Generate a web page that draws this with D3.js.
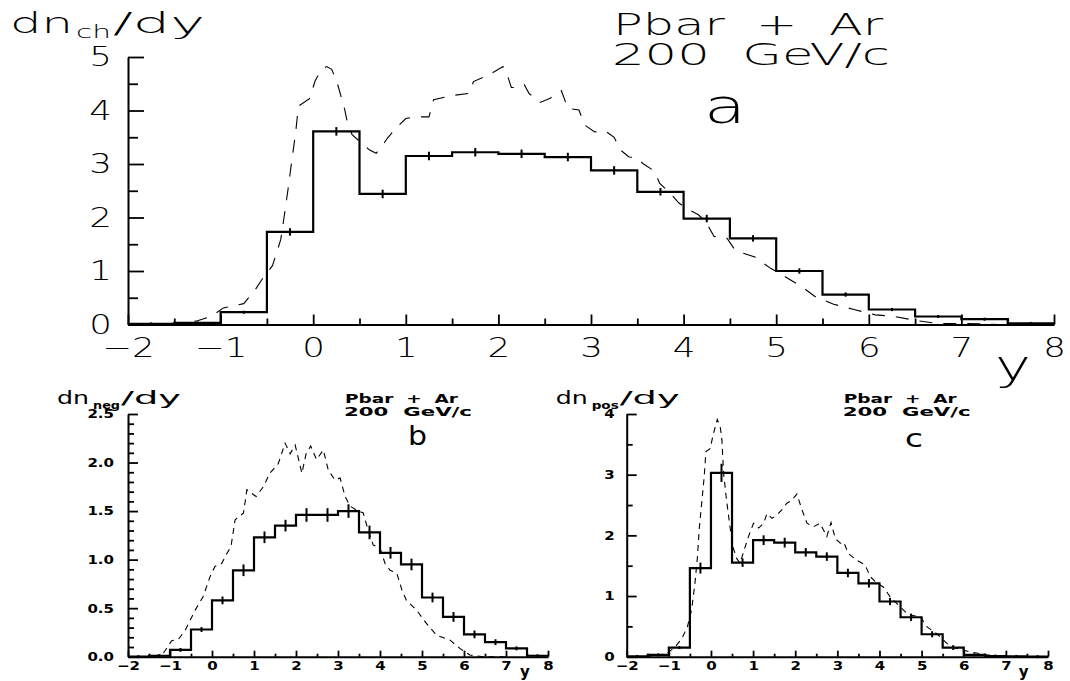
<!DOCTYPE html>
<html><head><meta charset="utf-8">
<script src="https://cdn.jsdelivr.net/npm/d3@7"></script>
<style>body{margin:0;background:#fff}svg{display:block}text{white-space:pre}</style>
</head><body><svg id="chart" width="1070" height="681"></svg>
<script>
// ---------- data ----------
const binLow = [-2,-1.5,-1,-0.5,0,0.5,1,1.5,2,2.5,3,3.5,4,4.5,5,5.5,6,6.5,7,7.5];
const binWidth = 0.5;

// panel a : charged
const chargedVals = [0.01,0.03,0.23,1.73,3.61,2.44,3.15,3.22,3.19,3.13,2.88,2.48,1.98,1.61,1.00,0.56,0.28,0.15,0.10,0.02];
const chargedErr  = [0.005,0.01,0.02,0.07,0.08,0.08,0.08,0.08,0.08,0.08,0.08,0.07,0.07,0.06,0.05,0.04,0.03,0.02,0.02,0.01];
const chargedModelY = [-1.8,-1.6,-1.4,-1.25,-1.1,-0.97,-0.75,-0.63,-0.55,-0.44,-0.35,-0.31,-0.27,-0.23,-0.19,-0.16,-0.04,0.02,0.09,0.145,0.2,0.26,0.3,0.34,0.37,0.42,0.54,0.61,0.68,0.75,0.8,0.91,1.0,1.09,1.25,1.3,1.5,1.69,1.73,1.89,2.05,2.1,2.14,2.23,2.28,2.33,2.45,2.56,2.68,2.75,2.87,2.93,3.04,3.15,3.25,3.32,3.41,3.5,3.56,3.69,3.74,3.84,3.95,4.05,4.16,4.24,4.33,4.4,4.47,4.56,4.77,4.94,5.11,5.28,5.43,5.62,5.84,6.07,6.28,6.52,6.75,7.05,7.26,7.4];
const chargedModelV = [0.0,0.01,0.03,0.07,0.15,0.31,0.39,0.64,0.85,1.10,1.59,2.06,2.55,3.08,3.58,4.08,4.22,4.55,4.77,4.82,4.77,4.51,4.27,4.02,3.77,3.55,3.36,3.26,3.20,3.35,3.48,3.70,3.85,3.88,3.88,4.20,4.28,4.32,4.54,4.66,4.82,4.64,4.43,4.43,4.48,4.32,4.15,4.23,4.37,4.04,4.01,3.73,3.60,3.62,3.50,3.26,3.13,3.12,3.01,2.86,2.64,2.48,2.27,2.15,2.05,1.92,1.64,1.66,1.61,1.38,1.26,1.05,0.88,0.70,0.51,0.38,0.28,0.18,0.15,0.07,0.02,0.02,0.01,0.0];

// panel b : negatives
const negVals = [0.0,0.01,0.07,0.28,0.58,0.89,1.23,1.35,1.46,1.46,1.50,1.28,1.07,0.95,0.61,0.41,0.23,0.15,0.086,0.01];
const negErr  = [0.0,0.005,0.02,0.025,0.04,0.06,0.06,0.06,0.07,0.07,0.07,0.07,0.06,0.06,0.05,0.05,0.04,0.03,0.02,0.01];
const negModelY = [-1.4,-1.16,-0.96,-0.8,-0.64,-0.4,-0.21,-0.05,0.07,0.23,0.35,0.45,0.55,0.75,0.83,1.05,1.22,1.38,1.58,1.74,1.86,1.98,2.14,2.24,2.35,2.49,2.65,2.77,2.93,3.05,3.17,3.29,3.44,3.6,3.72,3.84,4.0,4.12,4.24,4.4,4.52,4.63,4.87,5.11,5.35,5.67,5.9,6.14,6.46,7.0];
const negModelV = [0.0,0.035,0.165,0.18,0.27,0.48,0.62,0.82,0.93,0.96,1.06,1.13,1.41,1.48,1.72,1.65,1.75,1.89,1.99,2.20,2.09,2.18,1.89,2.09,2.17,2.03,2.13,1.92,1.82,1.84,1.65,1.55,1.51,1.48,1.30,1.15,1.12,0.96,0.89,0.86,0.69,0.58,0.48,0.34,0.22,0.17,0.086,0.017,0.0,0.0];

// panel c : positives
const posVals = [0.005,0.03,0.15,1.46,3.03,1.55,1.92,1.88,1.72,1.65,1.38,1.21,0.91,0.65,0.37,0.15,0.03,0.01,0.005,0.0];
const posErr  = [0.0,0.01,0.02,0.09,0.15,0.07,0.08,0.08,0.07,0.07,0.07,0.07,0.06,0.06,0.05,0.04,0.02,0.01,0.01,0.0];
const posModelY = [-1.8,-1.44,-1.05,-0.85,-0.69,-0.56,-0.46,-0.38,-0.32,-0.28,-0.22,-0.16,-0.12,-0.02,0.06,0.15,0.22,0.26,0.3,0.36,0.44,0.52,0.61,0.69,0.79,0.89,1.01,1.13,1.25,1.33,1.45,1.56,1.68,1.8,1.92,2.04,2.16,2.28,2.43,2.59,2.75,2.85,2.95,3.07,3.15,3.26,3.46,3.66,3.78,3.94,4.09,4.25,4.49,4.69,4.97,5.13,5.36,5.6,5.8,6.15,6.55,6.95,7.3];
const posModelV = [0.0,0.01,0.05,0.16,0.30,0.49,0.77,1.21,1.65,2.09,2.53,2.97,3.38,3.43,3.68,3.91,3.79,3.57,3.02,2.64,2.20,1.81,1.62,1.54,1.76,1.98,2.20,2.12,2.20,2.36,2.28,2.33,2.42,2.53,2.58,2.68,2.42,2.20,2.14,2.20,1.98,2.21,1.95,1.87,1.89,1.70,1.59,1.51,1.32,1.21,1.15,0.99,0.82,0.69,0.66,0.49,0.38,0.22,0.14,0.08,0.03,0.01,0.0];

const xTickVals = [-2,-1,0,1,2,3,4,5,6,7,8];
const titleLine1 = "Pbar  +  Ar";
const titleLine2 = "200  GeV/c";

// ---------- drawing ----------
const svg = d3.select("#chart");

function drawPanel(cfg) {
  const x = d3.scaleLinear().domain([-2, 8]).range([cfg.x0, cfg.x1]);
  const y = d3.scaleLinear().domain([0, cfg.yMax]).range([cfg.y0, cfg.y1]);
  const g = svg.append("g");

  // minor ticks
  g.append("g").attr("transform", `translate(0,${cfg.y0})`)
    .call(d3.axisBottom(x).tickValues(d3.range(-1.5, 8, 1)).tickFormat("").tickSizeInner(-cfg.xMinor).tickSizeOuter(0))
    .call(s => s.select(".domain").remove());
  g.append("g").attr("transform", `translate(${cfg.x0},0)`)
    .call(d3.axisLeft(y).tickValues(cfg.yMinorVals).tickFormat("").tickSizeInner(-cfg.yMinor).tickSizeOuter(0))
    .call(s => s.select(".domain").remove());

  // major x axis
  const gx = g.append("g").attr("transform", `translate(0,${cfg.y0})`)
    .call(d3.axisBottom(x).tickValues(xTickVals).tickSizeInner(-cfg.xMajor).tickSizeOuter(0).tickPadding(cfg.xPad)
      .tickFormat(d => d < 0 ? "\u2212" + Math.abs(d) : String(d)));
  gx.selectAll("text").attr("font-size", cfg.tickFont).attr("font-family", cfg.font)
    .attr("font-weight", cfg.tickWeight).attr("fill", "#000")
    .attr("transform", `scale(${cfg.sx},1)`).attr("dy", "0.71em");

  // major y axis
  const gy = g.append("g").attr("transform", `translate(${cfg.x0},0)`)
    .call(d3.axisLeft(y).tickValues(cfg.yMajorVals).tickSizeInner(-cfg.yMajor).tickSizeOuter(0).tickPadding(cfg.yPad / cfg.sx)
      .tickFormat(cfg.yFmt));
  gy.selectAll("text").attr("font-size", cfg.tickFont).attr("font-family", cfg.font)
    .attr("font-weight", cfg.tickWeight).attr("fill", "#000")
    .attr("transform", `scale(${cfg.sx},1)`);

  g.selectAll(".domain").attr("stroke-width", 2).attr("stroke", "#000");
  g.selectAll(".tick line").attr("stroke-width", 1.8).attr("stroke", "#000");

  // model curve (dashed)
  const pts = cfg.modelY.map((v, i) => [v, cfg.modelV[i]]);
  g.append("path").datum(pts)
    .attr("fill", "none").attr("stroke", "#000").attr("stroke-width", 1.1)
    .attr("stroke-dasharray", cfg.dash)
    .attr("d", d3.line().x(d => x(d[0])).y(d => y(d[1])));

  // histogram
  const hist = binLow.map((b, i) => [b, cfg.vals[i]]);
  hist.push([binLow[binLow.length - 1] + binWidth, cfg.vals[cfg.vals.length - 1]]);
  g.append("path").datum(hist)
    .attr("fill", "none").attr("stroke", "#000").attr("stroke-width", 2.2)
    .attr("d", d3.line().curve(d3.curveStepAfter).x(d => x(d[0])).y(d => y(d[1])));

  // error bars
  g.selectAll(".err").data(binLow.map((b, i) => ({c: b + binWidth / 2, v: cfg.vals[i], e: cfg.errs[i]})))
    .join("line").attr("class", "err")
    .attr("x1", d => x(d.c)).attr("x2", d => x(d.c))
    .attr("y1", d => y(d.v) - Math.max(y(0) - y(d.e), 1.5)).attr("y2", d => y(d.v) + Math.max(y(0) - y(d.e), 1.5))
    .attr("stroke", "#000").attr("stroke-width", 2);
  return {x, y, g};
}

function txt(x, y, s, size, opts = {}) {
  const t = svg.append("text").attr("x", x).attr("y", y).text(s)
    .attr("font-size", size).attr("font-family", opts.font || "DejaVu Sans")
    .attr("font-weight", opts.weight || "normal").attr("fill", "#000");
  if (opts.len) t.attr("textLength", opts.len).attr("lengthAdjust", "spacingAndGlyphs");
  return t;
}
// one text element made of positioned pieces
function multi(parts, weight) {
  const t = svg.append("text").attr("font-family", "DejaVu Sans").attr("fill", "#000")
    .attr("font-weight", weight || "normal");
  parts.forEach(p => {
    const s = t.append("tspan").attr("x", p.x).attr("y", p.y).attr("font-size", p.size).text(p.s);
    if (p.w) s.attr("font-weight", p.w);
    if (p.len) s.attr("textLength", p.len).attr("lengthAdjust", "spacingAndGlyphs");
  });
  return t;
}

// Panel a
drawPanel({
  x0: 128, x1: 1054, y0: 324.5, y1: 57, yMax: 5,
  yMajorVals: [0,1,2,3,4,5], yMinorVals: [0.5,1.5,2.5,3.5,4.5],
  yFmt: d => String(d), xMajor: 10, xMinor: 6, yMajor: 16, yMinor: 10,
  xPad: 13, yPad: 16, tickFont: 27, tickWeight: 200, sx: 1.32, font: "DejaVu Sans",
  vals: chargedVals, errs: chargedErr, modelY: chargedModelY, modelV: chargedModelV, dash: "13,11"
});
multi([
  {x: 10, y: 33, s: "dn", size: 28, len: 63},
  {x: 76, y: 38, s: "ch", size: 18, len: 35, w: 300},
  {x: 113, y: 33, s: "/dy", size: 28, len: 92}
], 200);
multi([
  {x: 613, y: 35, s: titleLine1, size: 30, len: 270},
  {x: 612, y: 65, s: titleLine2, size: 30, len: 278}
], 200);
txt(704, 123, "a", 48, {len: 42, weight: 200});
txt(995, 380, "y", 42, {len: 36, weight: 200});

// Panels b and c
const small = {
  y0: 656.7, y1: 414, xMajor: 6, xMinor: 3, yMajor: 10, yMinor: 6,
  xPad: 5, yPad: 14, tickFont: 12, tickWeight: "bold", sx: 1.25, font: "DejaVu Sans", dash: "6,5"
};
drawPanel(Object.assign({}, small, {
  x0: 128, x1: 548, yMax: 2.5,
  yMajorVals: [0,0.5,1,1.5,2,2.5], yMinorVals: d3.range(0.1, 2.45, 0.1).filter(v => Math.abs(v*2 - Math.round(v*2)) > 0.01),
  yFmt: d3.format(".1f"),
  vals: negVals, errs: negErr, modelY: negModelY, modelV: negModelV
}));
drawPanel(Object.assign({}, small, {
  x0: 626.7, x1: 1048, yMax: 4,
  yMajorVals: [0,1,2,3,4], yMinorVals: [0.5,1.5,2.5,3.5], yPad: 12,
  yFmt: d => String(d),
  vals: posVals, errs: posErr, modelY: posModelY, modelV: posModelV
}));

function smallLabels(dx, sub, subLen) {
  multi([
    {x: 57 + dx, y: 404, s: "dn", size: 17, len: 32},
    {x: 93 + dx, y: 409, s: sub, size: 10, len: subLen, w: "bold"},
    {x: 121 + dx, y: 404, s: "/dy", size: 17, len: 60}
  ]);
  multi([
    {x: 345 + dx, y: 403, s: titleLine1, size: 13, len: 113},
    {x: 344 + dx, y: 416, s: titleLine2, size: 13, len: 128}
  ], "bold");
  txt(520 + dx, 677, "y", 15, {weight: "bold"});
}
smallLabels(0, "neg", 27);
smallLabels(498.7, "pos", 27);
txt(408, 445, "b", 26, {len: 19});
txt(905, 447, "c", 24, {len: 18});
</script></body></html>
